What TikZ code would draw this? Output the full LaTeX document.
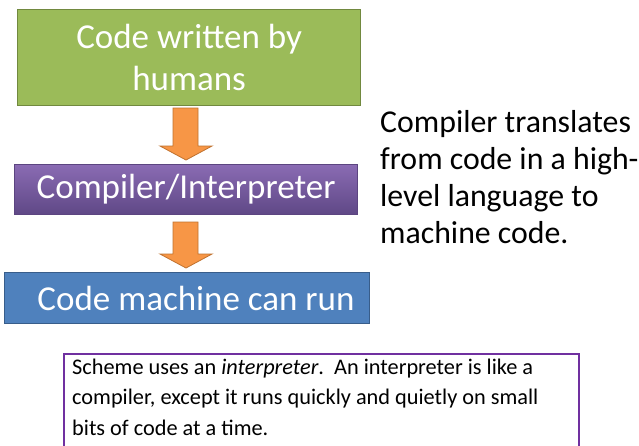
\documentclass[tikz,border=0pt]{standalone}
\usepackage{fontspec}
\setmainfont{Carlito}
\usetikzlibrary{calc}
\definecolor{grnF}{HTML}{9BBB59}
\definecolor{grnD}{HTML}{71893F}
\definecolor{purT}{HTML}{8A6BB3}
\definecolor{purB}{HTML}{5F4886}
\definecolor{purD}{HTML}{5C4580}
\definecolor{bluF}{HTML}{4F81BD}
\definecolor{bluD}{HTML}{385D8A}
\definecolor{orgF}{HTML}{F79646}
\definecolor{orgD}{HTML}{C0722F}
\definecolor{noteD}{HTML}{7030A0}
\begin{document}
\begin{tikzpicture}[x=1pt,y=-1pt,
  bigbox/.style={rectangle, inner sep=0pt, line width=1.2pt, text=white,
    font=\fontsize{35}{42}\selectfont, align=center},
  blockarr/.style={fill=orgF, draw=orgD, line width=0.8pt, line join=miter}]
\useasboundingbox (0,0) rectangle (639,445);
\clip (0,0) rectangle (639,445);
\fill[white] (0,0) rectangle (639,445);

\node[bigbox, fill=grnF, draw=grnD, minimum width=343pt, minimum height=96pt, anchor=north west] (human) at (17,9) {Code written by\\humans};
\node[bigbox, top color=purT, bottom color=purB, draw=purD, minimum width=343pt, minimum height=50pt, anchor=north west] (comp) at (14,164) {Compiler/Interpreter};
\node[bigbox, fill=bluF, draw=bluD, minimum width=365pt, minimum height=51pt, anchor=north west] (mach) at (4,272) {};
\node[text=white, font=\fontsize{35}{42}\selectfont, inner sep=0pt, anchor=base] (machtext) at (196,310) {Code machine can run};

% block arrows
\draw[blockarr] (173,108) -- (198,108) -- (198,146) -- (212,146) -- (186,160) -- (160,146) -- (173,146) -- cycle;
\draw[blockarr] (173,222) -- (198,222) -- (198,254) -- (212,254) -- (186,268) -- (160,254) -- (173,254) -- cycle;

\node[anchor=base west, inner sep=0pt, align=left, font=\fontsize{31.8}{37}\selectfont] (explain) at (380,243) {Compiler translates\\from code in a high-\\level language to\\machine code.};

\node[draw=noteD, line width=1.6pt, rectangle, minimum width=515pt, minimum height=110pt, anchor=north west, inner sep=0pt] (notebox) at (63,353) {};
\node[anchor=base west, inner sep=0pt, align=left, font=\fontsize{22.3}{30.5}\selectfont] (note) at (72,435) {Scheme uses an \textit{interpreter}.\ \ An interpreter is like a\\compiler, except it runs quickly and quietly on small\\bits of code at a time.};
\end{tikzpicture}
\end{document}
